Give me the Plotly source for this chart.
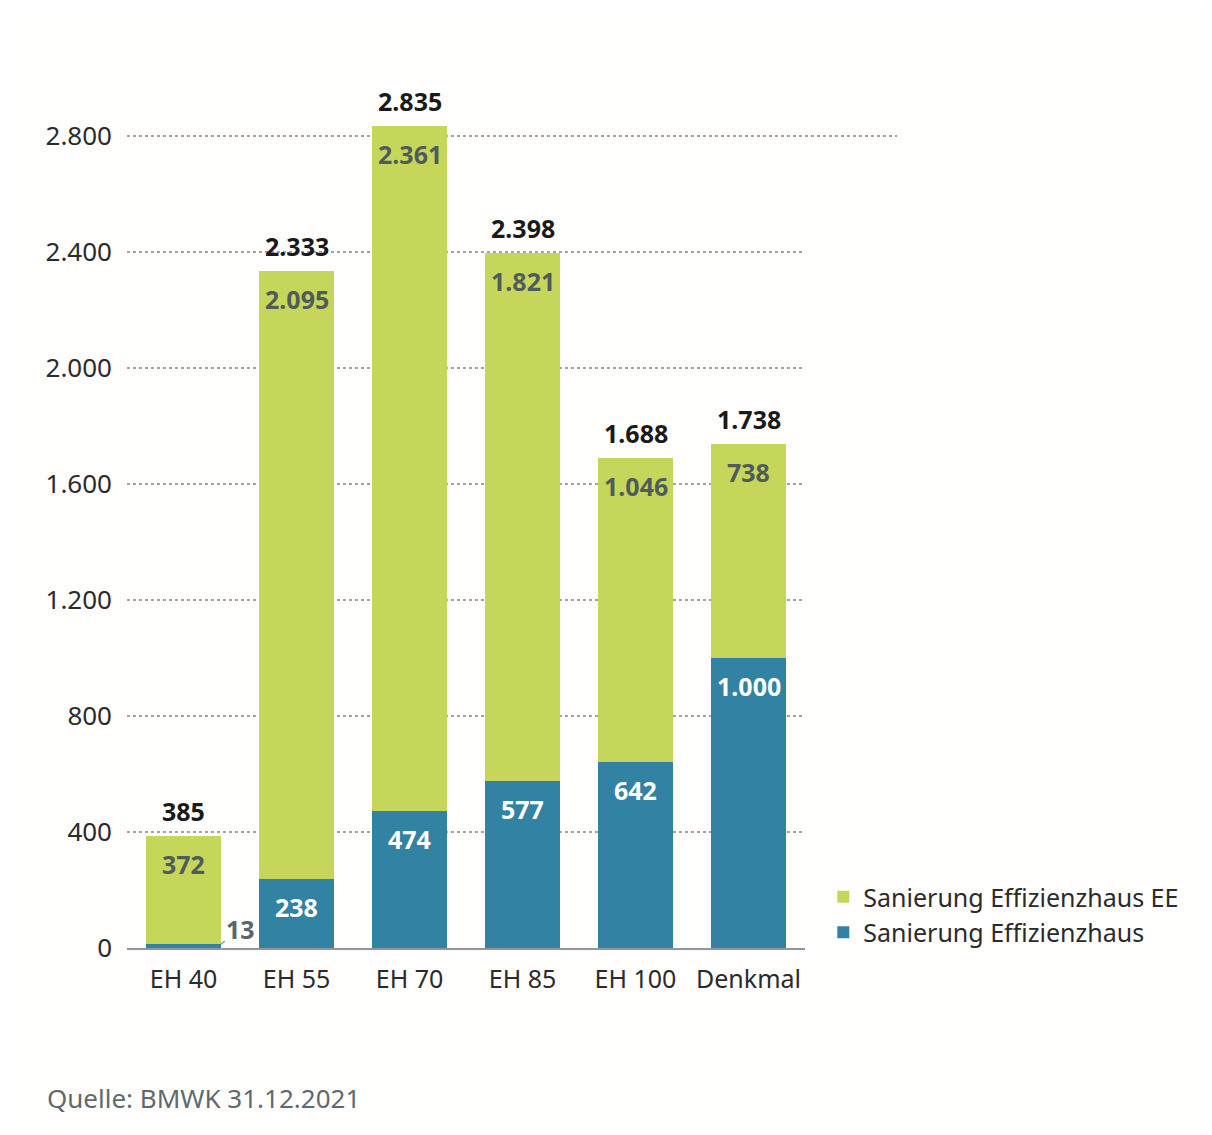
import plotly.graph_objects as go

categories = ["EH 40", "EH 55", "EH 70", "EH 85", "EH 100", "Denkmal"]
effizienzhaus = [13, 238, 474, 577, 642, 1000]
effizienzhaus_ee = [372, 2095, 2361, 1821, 1046, 738]
totals = [385, 2333, 2835, 2398, 1688, 1738]
y_ticks = [0, 400, 800, 1200, 1600, 2000, 2400, 2800]

GREEN = "#c6d65a"
BLUE = "#3282a3"
FONT = "Noto Sans"


def de(v):
    return f"{v:,}".replace(",", ".")


fig = go.Figure()
fig.add_trace(go.Bar(x=categories, y=effizienzhaus, name="Sanierung Effizienzhaus",
                     marker=dict(color=BLUE, line=dict(width=0))))
fig.add_trace(go.Bar(x=categories, y=effizienzhaus_ee, name="Sanierung Effizienzhaus EE",
                     marker=dict(color=GREEN, line=dict(width=0))))

# value labels
for i, cat in enumerate(categories):
    if i > 0:
        fig.add_annotation(x=cat, y=effizienzhaus[i], yshift=-28, text="<b>%s</b>" % de(effizienzhaus[i]),
                           showarrow=False, font=dict(family=FONT, size=25, color="white"))
    fig.add_annotation(x=cat, y=totals[i], yshift=-28, text="<b>%s</b>" % de(effizienzhaus_ee[i]),
                       showarrow=False, font=dict(family=FONT, size=25, color="#505c5c"))
    fig.add_annotation(x=cat, y=totals[i], yshift=25, text="<b>%s</b>" % de(totals[i]),
                       showarrow=False, font=dict(family=FONT, size=25, color="#1a1a1a"))

# small segment label with leader line
fig.add_annotation(x=0.33, y=effizienzhaus[0], text="<b>%s</b>" % de(effizienzhaus[0]), showarrow=True,
                   arrowhead=0, arrowwidth=1.5, arrowcolor="#8a969b", ax=20, ay=-15,
                   font=dict(family=FONT, size=25, color="#5a666b"))

fig.add_annotation(xref="paper", yref="paper", x=-0.121, y=-0.172, xanchor="left", yanchor="middle",
                   text="Quelle: BMWK 31.12.2021", showarrow=False,
                   font=dict(family=FONT, size=26, color="#5f6a6f"))

# top gridline runs further right
fig.add_shape(type="line", xref="paper", yref="y", x0=1.0, x1=1.136, y0=2800, y1=2800,
              line=dict(color="#a3a3a3", width=2, dash="dot"), layer="below")

fig.update_layout(
    width=1204, height=1127,
    margin=dict(l=119, r=407, t=70, b=187),
    barmode="stack", bargap=0.336,
    paper_bgcolor="#fffefc", plot_bgcolor="#fffefc",
    separators=",.",
    font=dict(family=FONT, size=25, color="#2b2b2b"),
    legend=dict(x=1.027, y=0.085, xanchor="left", yanchor="top", traceorder="reversed",
                font=dict(family=FONT, size=25, color="#2b2b2b"), bgcolor="rgba(0,0,0,0)",
                itemwidth=30),
    showlegend=True,
)
fig.update_xaxes(showline=True, linecolor="#8c989d", linewidth=2, ticks="", ticklabelstandoff=8,
                 tickfont=dict(family=FONT, size=25, color="#2b2b2b"))
fig.update_yaxes(range=[0, 3000], tickvals=y_ticks, tickformat=",d", showgrid=True, gridcolor="#a3a3a3",
                 gridwidth=2, griddash="dot", zeroline=False, ticks="", ticklabelstandoff=14,
                 tickfont=dict(family=FONT, size=26, color="#2b2b2b"))

fig.write_html("out.html")
